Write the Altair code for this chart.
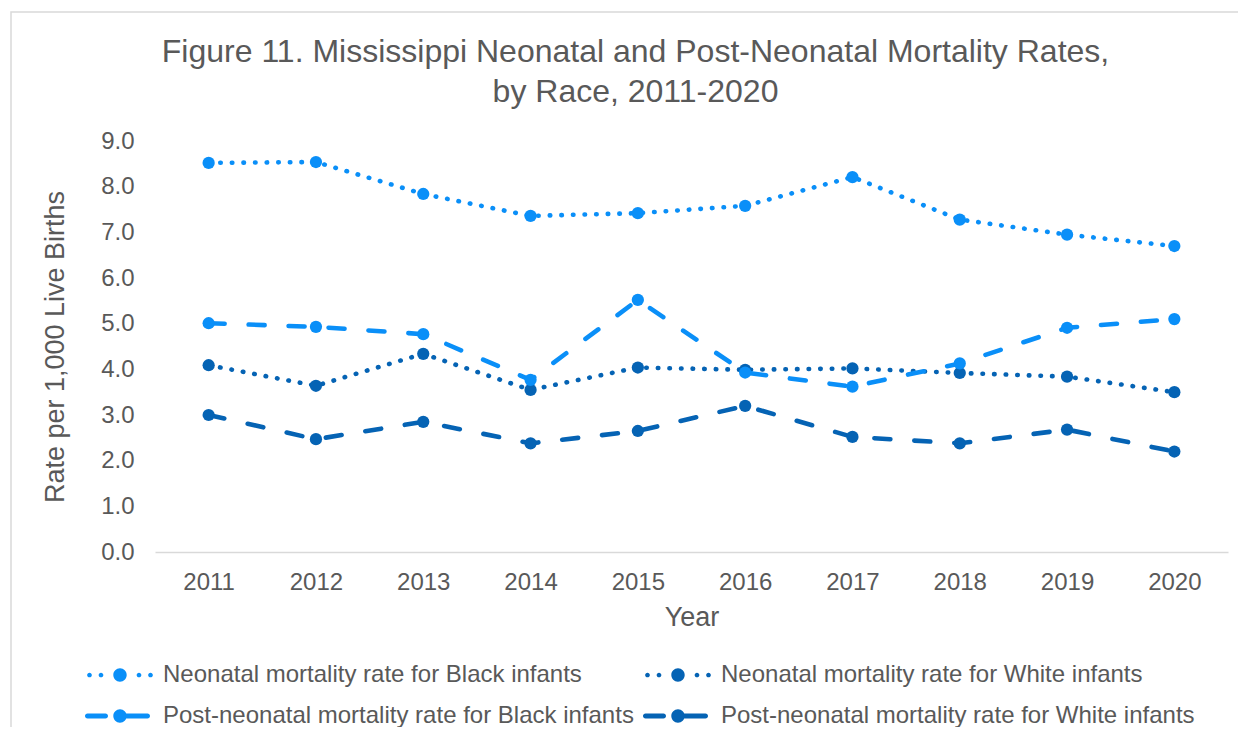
import altair as alt
import pandas as pd

years = [2011, 2012, 2013, 2014, 2015, 2016, 2017, 2018, 2019, 2020]
series = [
    "Neonatal mortality rate for Black infants",
    "Neonatal mortality rate for White infants",
    "Post-neonatal mortality rate for Black infants",
    "Post-neonatal mortality rate for White infants",
]
neonatal_black = [8.52, 8.54, 7.84, 7.36, 7.42, 7.58, 8.21, 7.28, 6.95, 6.70]
neonatal_white = [4.09, 3.64, 4.34, 3.55, 4.04, 3.99, 4.02, 3.92, 3.84, 3.50]
postneonatal_black = [5.01, 4.93, 4.77, 3.77, 5.52, 3.93, 3.62, 4.13, 4.91, 5.10]
postneonatal_white = [3.00, 2.47, 2.85, 2.38, 2.65, 3.20, 2.52, 2.38, 2.68, 2.20]

colors = ["#0A8FF8", "#0563B4", "#0A8FF8", "#0563B4"]
dashes = [[0.5, 11.1], [0.5, 11.1], [16, 24], [16, 24]]

rows = []
for name, vals in zip(series, [neonatal_black, neonatal_white, postneonatal_black, postneonatal_white]):
    for yr, v in zip(years, vals):
        rows.append({"series": name, "year": str(yr), "rate": v})
df = pd.DataFrame(rows)

FONT = "Liberation Sans"
GREY = "#595959"


def circ(cx, r):
    return f"M{cx + r:.3f},0A{r:.3f},{r:.3f},0,1,1,{cx - r:.3f},0A{r:.3f},{r:.3f},0,1,1,{cx + r:.3f},0Z"


def capsule(a, b, r):
    return (f"M{a:.3f},{-r:.3f}H{b:.3f}A{r:.3f},{r:.3f},0,0,1,{b:.3f},{r:.3f}"
            f"H{a:.3f}A{r:.3f},{r:.3f},0,0,1,{a:.3f},{-r:.3f}Z")


# legend glyphs (line pattern + marker), in symbol units
dotted_glyph = "".join(circ(c, 0.168) for c in [-2.179, -1.357, 1.357, 2.179]) + circ(0, 0.479)
dashed_glyph = capsule(-2.321, -1.036, 0.179) + capsule(-0.179, 1.964, 0.179) + circ(0, 0.479)
glyphs = [dotted_glyph, dotted_glyph, dashed_glyph, dashed_glyph]

legend = alt.Legend(
    title=None,
    orient="none",
    direction="horizontal",
    legendX=-49,
    legendY=520,
    columns=2,
    columnPadding=9,
    rowPadding=15,
    symbolSize=784,
    symbolStrokeWidth=0,
    labelOffset=29,
    labelFont=FONT,
    labelFontSize=24,
    labelColor=GREY,
    labelLimit=0,
    padding=0,
)

base = alt.Chart(df).encode(
    x=alt.X(
        "year:O",
        title="Year",
        scale=alt.Scale(paddingOuter=0.5, paddingInner=1),
        axis=alt.Axis(
            labelAngle=0,
            ticks=False,
            tickSize=0,
            domainColor="#D9D9D9",
            domainWidth=1.5,
            labelFont=FONT,
            labelFontSize=24,
            labelColor=GREY,
            labelPadding=18,
            titleFont=FONT,
            titleFontSize=27,
            titleFontWeight="normal",
            titleColor=GREY,
            titlePadding=10,
        ),
    ),
    y=alt.Y(
        "rate:Q",
        title="Rate per 1,000 Live Births",
        scale=alt.Scale(domain=[0, 9], nice=False, zero=True),
        axis=alt.Axis(
            values=[0, 1, 2, 3, 4, 5, 6, 7, 8, 9],
            format=".1f",
            ticks=False,
            tickSize=0,
            domain=False,
            grid=False,
            labelFont=FONT,
            labelFontSize=24,
            labelColor=GREY,
            labelPadding=21,
            titleFont=FONT,
            titleFontSize=27,
            titleFontWeight="normal",
            titleColor=GREY,
            titlePadding=31,
        ),
    ),
    color=alt.Color("series:N", scale=alt.Scale(domain=series, range=colors), legend=legend, sort=series),
)

lines = base.mark_line(strokeWidth=4.6, strokeCap="round", strokeJoin="round").encode(
    strokeDash=alt.StrokeDash("series:N", scale=alt.Scale(domain=series, range=dashes), legend=None, sort=series),
)
points = base.mark_point(filled=True, size=150, opacity=1)
legend_layer = base.mark_point(filled=True, opacity=1).encode(
    shape=alt.Shape("series:N", scale=alt.Scale(domain=series, range=glyphs), legend=legend, sort=series),
).transform_filter("false")

border = alt.Chart(pd.DataFrame({"k": [0]})).mark_rect(
    fill=None, stroke="#D9D9D9", strokeWidth=1.5
).encode(
    x=alt.value(-144), x2=alt.value(1120), y=alt.value(-129), y2=alt.value(640)
)

chart = alt.layer(border, lines, points, legend_layer).properties(
    width=1073,
    height=411,
    autosize=alt.AutoSizeParams(type="none"),
    padding={"left": 147, "top": 133, "right": 10, "bottom": 175},
    title=alt.TitleParams(
        text=["Figure 11. Mississippi Neonatal and Post-Neonatal Mortality Rates,", "by Race, 2011-2020"],
        font=FONT,
        fontSize=32,
        fontWeight="normal",
        color=GREY,
        lineHeight=40,
        anchor="middle",
        frame="group",
        dx=-56,
        offset=-98,
    ),
).configure(background="white").configure_view(stroke=None)

chart.save("out.html", embed_options={"renderer": "svg", "actions": False})
